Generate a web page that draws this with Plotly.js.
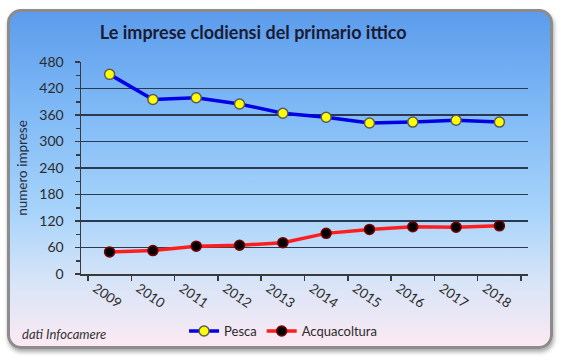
<!DOCTYPE html>
<html>
<head>
<meta charset="utf-8">
<script src="https://cdn.plot.ly/plotly-3.0.1.min.js"></script>
<style>
  html, body { margin:0; padding:0; width:573px; height:363px; background:#ffffff; overflow:hidden; }
  #panel {
    position:absolute; left:7px; top:9px; width:540px; height:334px;
    border:3px solid #8c8c8c; border-radius:14px;
    background:linear-gradient(to bottom, rgb(92,156,236) 0%, rgb(128,186,246) 30%, rgb(168,212,251) 60%, rgb(214,228,248) 80%, rgb(252,234,243) 100%);
    box-shadow: 1px 3px 4px rgba(0,0,0,0.35);
  }
  #chart { position:absolute; left:0; top:0; width:573px; height:363px; }
</style>
</head>
<body>
<div id="panel"></div>
<div id="chart"></div>
<script>
const years = ["2009","2010","2011","2012","2013","2014","2015","2016","2017","2018"];
const pesca = [452, 395, 399, 385, 364, 355, 342, 344, 348, 344];
const acquacoltura = [50, 53, 63, 65, 71, 92, 101, 107, 106, 109];
const yTicks = [0, 60, 120, 180, 240, 300, 360, 420, 480];

const traces = [
  {
    x: years, y: pesca, name: "Pesca", type: "scatter", mode: "lines+markers",
    line: { color: "#0000e6", width: 3.5 },
    marker: { color: "#ffff00", size: 10, line: { color: "#5a5a5a", width: 1.5 } }
  },
  {
    x: years, y: acquacoltura, name: "Acquacoltura", type: "scatter", mode: "lines+markers",
    line: { color: "#ff1e1e", width: 3.5 },
    marker: { color: "#000000", size: 10, line: { color: "#7a0000", width: 1.5 } }
  }
];

const layout = {
  width: 573, height: 363,
  margin: { l: 81, r: 45, t: 62, b: 89 },
  paper_bgcolor: "rgba(0,0,0,0)",
  plot_bgcolor: "rgba(0,0,0,0)",
  font: { family: "Lato, 'Open Sans', sans-serif", color: "#2b2b2b", size: 13 },
  title: {
    text: "<b>Le imprese clodiensi del primario ittico</b>",
    font: { family: "Lato, sans-serif", size: 18, color: "#1b1b33" },
    xref: "container", yref: "container", x: 0.442, y: 0.909, xanchor: "center", yanchor: "middle"
  },
  xaxis: {
    type: "category",
    tickangle: 35,
    tickson: "boundaries",
    ticklabelshift: -14,
    ticks: "outside", ticklen: 5, tickcolor: "#3a3a3a", tickwidth: 1.5,
    showline: true, linecolor: "#3a3a3a", linewidth: 1.5,
    showgrid: false, zeroline: false,
    tickfont: { size: 13.5, color: "#2b2b2b" }
  },
  yaxis: {
    range: [0, 480],
    tickvals: yTicks, ticktext: yTicks.map(String),
    ticks: "outside", ticklen: 5, tickcolor: "#3a3a3a", tickwidth: 1.5,
    ticklabelstandoff: 8,
    minor: { dtick: 30, tick0: 0, ticks: "outside", ticklen: 4, tickcolor: "#3a3a3a", tickwidth: 1.5, showgrid: false },
    showline: true, linecolor: "#3a3a3a", linewidth: 1.5,
    showgrid: true, gridcolor: "#2a3850", gridwidth: 1.5,
    zeroline: false,
    tickfont: { size: 14, color: "#2b2b2b" },
    title: { text: "numero imprese", font: { size: 13.5, color: "#2b2b3b" }, standoff: 8 }
  },
  showlegend: true,
  legend: {
    orientation: "h",
    xref: "container", yref: "container",
    x: 0.494, y: 0.088, xanchor: "center", yanchor: "middle",
    bgcolor: "rgba(0,0,0,0)",
    font: { size: 13, color: "#2b2b2b" },
    itemwidth: 30
  },
  annotations: [
    {
      text: "<i>dati Infocamere</i>",
      xref: "paper", yref: "paper",
      x: (20 - 81) / 447, y: -(334 - 274) / 212,
      xanchor: "left", yanchor: "middle",
      showarrow: false,
      font: { size: 13, color: "#333333" }
    }
  ]
};

Plotly.newPlot("chart", traces, layout, { displayModeBar: false, staticPlot: true });
</script>
</body>
</html>
